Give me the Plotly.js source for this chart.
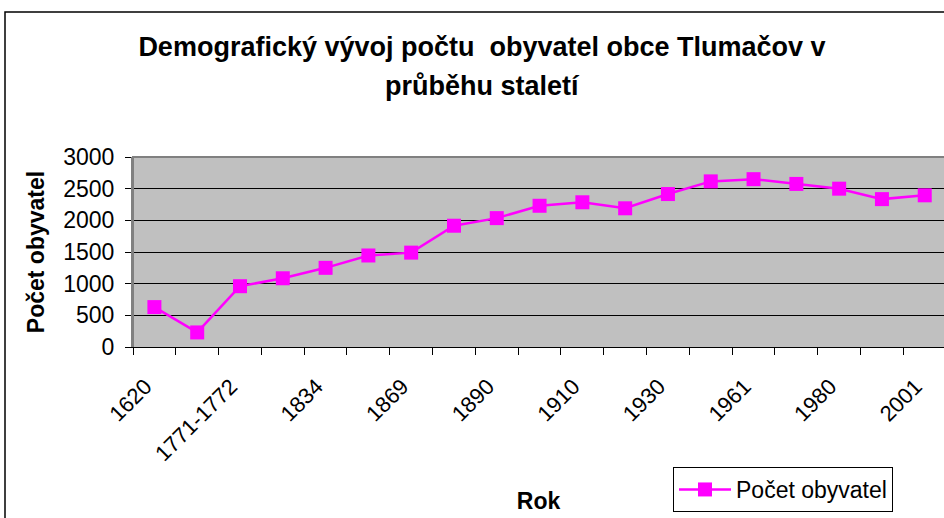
<!DOCTYPE html>
<html>
<head>
<meta charset="utf-8">
<script src="https://cdn.plot.ly/plotly-3.0.1.min.js"></script>
<style>
  html, body { margin: 0; padding: 0; background: #fff; }
  #chart { width: 944px; height: 518px; }
</style>
</head>
<body>
<div id="chart"></div>
<script>
// Categories (census years); only every other label is shown in the reference
const categories = ['1620', '1671', '1771-1772', '1790', '1834', '1850', '1869', '1880', '1890', '1900',
                    '1910', '1921', '1930', '1950', '1961', '1970', '1980', '1991', '2001'];
const tickLabels = ['1620', '', '1771-1772', '', '1834', '', '1869', '', '1890', '',
                    '1910', '', '1930', '', '1961', '', '1980', '', '2001'];
const population = [630, 230, 960, 1085, 1250, 1445, 1490, 1915, 2035, 2230,
                    2285, 2190, 2415, 2615, 2650, 2575, 2500, 2335, 2395];
const seriesName = 'Počet obyvatel';
const yTicks = [0, 500, 1000, 1500, 2000, 2500, 3000];

const FONT = '"Liberation Sans", Arial, sans-serif';

const trace = {
  type: 'scatter',
  mode: 'lines+markers',
  x: categories,
  y: population,
  name: seriesName,
  line: { color: '#FF00FF', width: 2.5 },
  marker: { symbol: 'square', size: 14, color: '#FF00FF', line: { width: 0 } },
  showlegend: true
};

const layout = {
  width: 944,
  height: 518,
  margin: { l: 133, r: 0, t: 157, b: 171 },
  paper_bgcolor: '#FFFFFF',
  plot_bgcolor: '#C0C0C0',
  font: { family: FONT, color: '#000', size: 23 },
  title: {
    text: '<b>Demografický vývoj počtu&nbsp; obyvatel obce Tlumačov v</b>',
    font: { family: FONT, size: 27, color: '#000' },
    x: 0.5106, xref: 'container', xanchor: 'center',
    y: 1 - 47 / 518, yref: 'container', yanchor: 'middle'
  },
  annotations: [{
    text: '<b>průběhu staletí</b>',
    xref: 'paper', yref: 'paper',
    x: (482 - 133) / 811, y: (347 - 86) / 190,
    xanchor: 'center', yanchor: 'middle',
    showarrow: false,
    font: { family: FONT, size: 27, color: '#000' }
  }],
  xaxis: {
    type: 'category',
    range: [-0.5, 18.45],
    tickmode: 'array',
    tickvals: categories,
    ticktext: tickLabels,
    tickson: 'boundaries',
    ticks: 'outside',
    ticklen: 7,
    tickcolor: '#000',
    tickwidth: 1,
    tickangle: -45,
    ticklabelstandoff: 17,
    ticklabelshift: -9,
    tickfont: { family: FONT, size: 22, color: '#000' },
    showline: true,
    linecolor: '#000',
    linewidth: 1,
    showgrid: false,
    zeroline: false,
    title: { text: '<b>Rok</b>', font: { family: FONT, size: 23, color: '#000' }, standoff: 27 },
    automargin: false
  },
  yaxis: {
    range: [0, 3000],
    tickmode: 'array',
    tickvals: yTicks,
    ticktext: yTicks.map(String),
    ticks: 'outside',
    ticklen: 6,
    tickcolor: '#000',
    ticklabelstandoff: 6,
    tickfont: { family: FONT, size: 23, color: '#000' },
    showline: true,
    linecolor: '#808080',
    linewidth: 2,
    showgrid: true,
    gridcolor: '#000',
    gridwidth: 1,
    zeroline: false,
    title: { text: '<b>Počet obyvatel</b>', font: { family: FONT, size: 23, color: '#000' }, standoff: 12 },
    automargin: false
  },
  legend: {
    x: (673 - 133) / 811,
    y: (347 - 467) / 190,
    xanchor: 'left',
    yanchor: 'top',
    bgcolor: '#FFFFFF',
    bordercolor: '#000',
    borderwidth: 1,
    font: { family: FONT, size: 23, color: '#000' },
    itemwidth: 52
  },
  shapes: [
    { type: 'path', xref: 'paper', yref: 'paper', layer: 'above',
      path: 'M0,0 L0,1 L1,1', line: { color: '#808080', width: 2 } },
    { type: 'path', xref: 'paper', yref: 'paper', layer: 'above',
      path: 'M' + ((5 - 133) / 811) + ',-2 L' + ((5 - 133) / 811) + ',' + ((347 - 12) / 190) + ' L1.5,' + ((347 - 12) / 190),
      line: { color: '#000', width: 1.5 } }
  ],
  showlegend: true
};

Plotly.newPlot('chart', [trace], layout, { displayModeBar: false, staticPlot: true });
</script>
</body>
</html>
